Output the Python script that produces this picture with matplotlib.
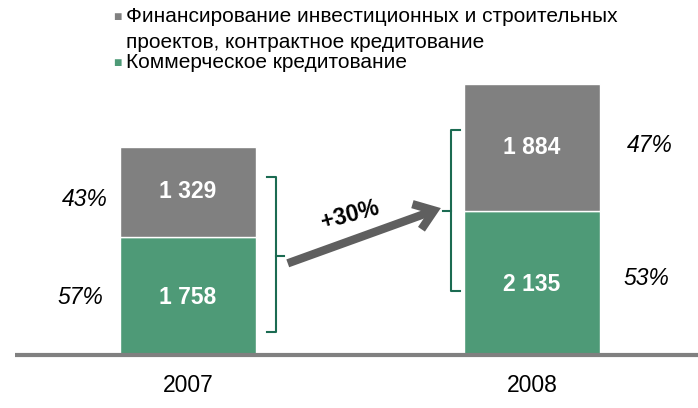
import matplotlib.pyplot as plt
from matplotlib.patches import FancyArrowPatch

plt.rcParams['font.family'] = ['Liberation Sans', 'DejaVu Sans']

# data
years = ['2007', '2008']
commercial = [1758, 2135]
project = [1329, 1884]
commercial_share = ['57%', '53%']
project_share = ['43%', '47%']
growth_label = '+30%'
legend_lines = ['Финансирование инвестиционных и строительных',
                'проектов, контрактное кредитование',
                'Коммерческое кредитование']

green = '#4e9a77'
gray = '#808080'
bracket_color = '#1b6b52'

fig = plt.figure(figsize=(6.98, 4.08), dpi=100)
# axes: baseline at y=355px, bars centred at 188 / 532 px
ax = fig.add_axes([0, 53 / 408, 1, 355 / 408])
px_per_unit = 344.0
ax.set_xlim(-188 / px_per_unit, 1 + (698 - 532) / px_per_unit)
ax.set_ylim(0, 355 / 0.0674)
ax.axis('off')

x = [0, 1]
width = 136 / px_per_unit
ax.bar(x, commercial, width=width, color=green, edgecolor='white', linewidth=1)
ax.bar(x, project, width=width, bottom=commercial, color=gray, edgecolor='white', linewidth=1)

# baseline
ax.plot([-0.503, 1.5], [0, 0], color='#808080', lw=3, clip_on=False, solid_capstyle='butt')

for i in range(len(years)):
    ax.text(x[i], commercial[i] / 2 - 20, f'{commercial[i]:,}'.replace(',', ' '),
            ha='center', va='center', color='white', fontsize=16.5, fontweight='bold')
    ax.text(x[i], commercial[i] + project[i] / 2, f'{project[i]:,}'.replace(',', ' '),
            ha='center', va='center', color='white', fontsize=16.5, fontweight='bold')
    ax.text(x[i], -450, years[i], ha='center', va='center', fontsize=16.5)

# percentages
ax.text(-0.247, 850, commercial_share[0], ha='right', va='center', fontsize=16.5, style='italic')
ax.text(-0.233, 2300, project_share[0], ha='right', va='center', fontsize=16.5, style='italic')
ax.text(1.267, 1140, commercial_share[1], ha='left', va='center', fontsize=16.5, style='italic')
ax.text(1.276, 3110, project_share[1], ha='left', va='center', fontsize=16.5, style='italic')


def bracket(ax, xb, y0, y1, ym, direction):
    # direction=+1 tip pointing right, -1 pointing left
    d = 0.025 * direction
    ax.plot([xb - d, xb, xb, xb - d], [y0, y0, y1, y1], color=bracket_color, lw=1.5)
    ax.plot([xb, xb + d], [ym, ym], color=bracket_color, lw=1.5)


bracket(ax, 0.255, 340, 2640, 1470, 1)
bracket(ax, 0.765, 950, 3340, 2130, -1)

# growth arrow
arrow = FancyArrowPatch((0.29, 1360), (0.735, 2180), arrowstyle='->,head_length=0.55,head_width=0.4',
                        mutation_scale=24, color='#5f5f5f', lw=6, shrinkA=0, shrinkB=0,
                        capstyle='butt', joinstyle='miter')
ax.add_patch(arrow)
ax.text(0.47, 2080, growth_label, ha='center', va='center', fontsize=16.5, fontweight='bold', rotation=15)

# legend
legend_y = [17, 42, 63]
for j, line in enumerate(legend_lines):
    fig.text(126 / 698, 1 - legend_y[j] / 408, line, fontsize=15, ha='left', va='center')
fig.text(117 / 698, 1 - legend_y[0] / 408, '\u25a0', color=gray, fontsize=10, ha='center', va='center')
fig.text(117 / 698, 1 - legend_y[2] / 408, '\u25a0', color=green, fontsize=10, ha='center', va='center')

fig.savefig('out.png', dpi=100)
